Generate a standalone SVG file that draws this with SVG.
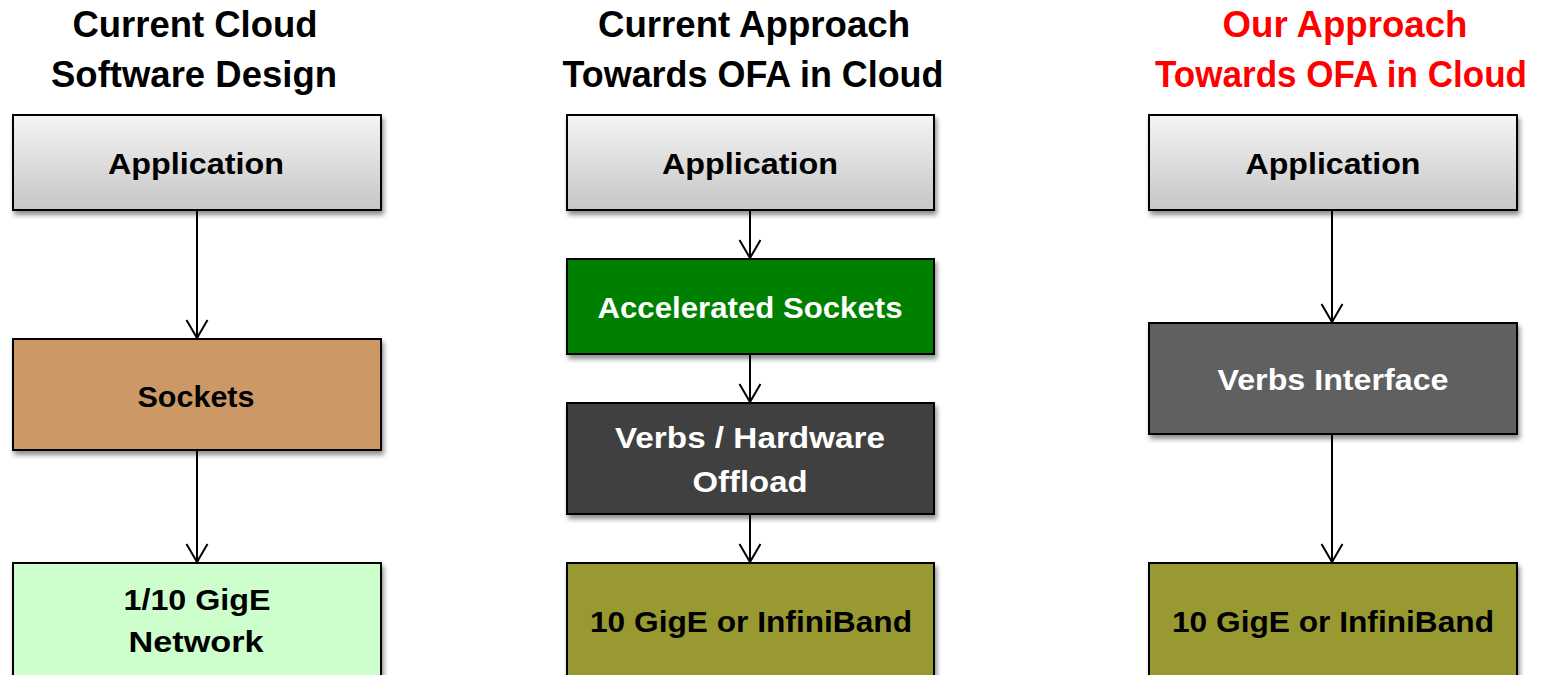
<svg xmlns="http://www.w3.org/2000/svg" width="1542" height="675" viewBox="0 0 1542 675">
<defs>
<linearGradient id="gApp" x1="0" y1="0" x2="0" y2="1">
<stop offset="0" stop-color="#f4f4f4"/>
<stop offset="1" stop-color="#c6c6c6"/>
</linearGradient>
<filter id="sh" x="-5%" y="-5%" width="115%" height="130%">
<feGaussianBlur in="SourceAlpha" stdDeviation="2.5"/>
<feOffset dx="2" dy="4" result="b"/>
<feComponentTransfer><feFuncA type="linear" slope="0.45"/></feComponentTransfer>
<feMerge><feMergeNode/><feMergeNode in="SourceGraphic"/></feMerge>
</filter>
<marker id="arr" markerWidth="24" markerHeight="24" refX="20" refY="12" orient="auto" markerUnits="userSpaceOnUse" viewBox="0 0 24 24">
<path d="M2 1.5 L20 12 L2 22.5" fill="none" stroke="#000" stroke-width="2"/>
</marker>
</defs>
<style>
.title{font-family:"Liberation Sans",Arial,sans-serif;font-weight:bold;font-size:36px;text-anchor:middle;fill:#000}
.red{fill:#ff0000}
.box{stroke:#000;stroke-width:2;filter:url(#sh)}
.lbl{font-family:"Liberation Sans",Arial,sans-serif;font-weight:bold;font-size:30px;text-anchor:middle}
.dk{fill:#000}
.wt{fill:#fff}
.conn{stroke:#000;stroke-width:2;fill:none;marker-end:url(#arr)}
</style>
<g id="titles">
<text class="title" x="195" y="37" textLength="245" lengthAdjust="spacingAndGlyphs">Current Cloud</text>
<text class="title" x="194" y="87" textLength="286" lengthAdjust="spacingAndGlyphs">Software Design</text>
<text class="title" x="754" y="37" textLength="312" lengthAdjust="spacingAndGlyphs">Current Approach</text>
<text class="title" x="753" y="87" textLength="381" lengthAdjust="spacingAndGlyphs">Towards OFA in Cloud</text>
<text class="title red" x="1345" y="37" textLength="245" lengthAdjust="spacingAndGlyphs">Our Approach</text>
<text class="title red" x="1341" y="87" textLength="372" lengthAdjust="spacingAndGlyphs">Towards OFA in Cloud</text>
</g>
<g id="connectors">
<line class="conn" x1="197" y1="211" x2="197" y2="338"/>
<line class="conn" x1="197" y1="451" x2="197" y2="562"/>
<line class="conn" x1="750" y1="211" x2="750" y2="258"/>
<line class="conn" x1="750" y1="355" x2="750" y2="402"/>
<line class="conn" x1="750" y1="515" x2="750" y2="562"/>
<line class="conn" x1="1332" y1="211" x2="1332" y2="322"/>
<line class="conn" x1="1332" y1="435" x2="1332" y2="562"/>
</g>
<g id="c1-app">
<rect class="box" x="13" y="115" width="368" height="95" fill="url(#gApp)"/>
<text class="lbl dk" x="196" y="174" textLength="176" lengthAdjust="spacingAndGlyphs">Application</text>
</g>
<g id="c1-sockets">
<rect class="box" x="13" y="339" width="368" height="111" fill="#cc9966"/>
<text class="lbl dk" x="196" y="407" textLength="117" lengthAdjust="spacingAndGlyphs">Sockets</text>
</g>
<g id="c1-net">
<rect class="box" x="13" y="563" width="368" height="115" fill="#ccffcc"/>
<text class="lbl dk" x="197" y="610" textLength="147" lengthAdjust="spacingAndGlyphs">1/10 GigE</text>
<text class="lbl dk" x="196" y="652" textLength="135" lengthAdjust="spacingAndGlyphs">Network</text>
</g>
<g id="c2-app">
<rect class="box" x="567" y="115" width="367" height="95" fill="url(#gApp)"/>
<text class="lbl dk" x="750" y="174" textLength="176" lengthAdjust="spacingAndGlyphs">Application</text>
</g>
<g id="c2-acc">
<rect class="box" x="567" y="259" width="367" height="95" fill="#008000"/>
<text class="lbl wt" x="750" y="318" textLength="305" lengthAdjust="spacingAndGlyphs">Accelerated Sockets</text>
</g>
<g id="c2-verbs">
<rect class="box" x="567" y="403" width="367" height="111" fill="#404040"/>
<text class="lbl wt" x="750" y="448" textLength="270" lengthAdjust="spacingAndGlyphs">Verbs / Hardware</text>
<text class="lbl wt" x="750" y="492" textLength="115" lengthAdjust="spacingAndGlyphs">Offload</text>
</g>
<g id="c2-net">
<rect class="box" x="567" y="563" width="367" height="115" fill="#999933"/>
<text class="lbl dk" x="751" y="632" textLength="322" lengthAdjust="spacingAndGlyphs">10 GigE or InfiniBand</text>
</g>
<g id="c3-app">
<rect class="box" x="1149" y="115" width="368" height="95" fill="url(#gApp)"/>
<text class="lbl dk" x="1333" y="174" textLength="175" lengthAdjust="spacingAndGlyphs">Application</text>
</g>
<g id="c3-verbs">
<rect class="box" x="1149" y="323" width="368" height="111" fill="#606060"/>
<text class="lbl wt" x="1333" y="390" textLength="231" lengthAdjust="spacingAndGlyphs">Verbs Interface</text>
</g>
<g id="c3-net">
<rect class="box" x="1149" y="563" width="368" height="115" fill="#999933"/>
<text class="lbl dk" x="1333" y="632" textLength="322" lengthAdjust="spacingAndGlyphs">10 GigE or InfiniBand</text>
</g>
</svg>
